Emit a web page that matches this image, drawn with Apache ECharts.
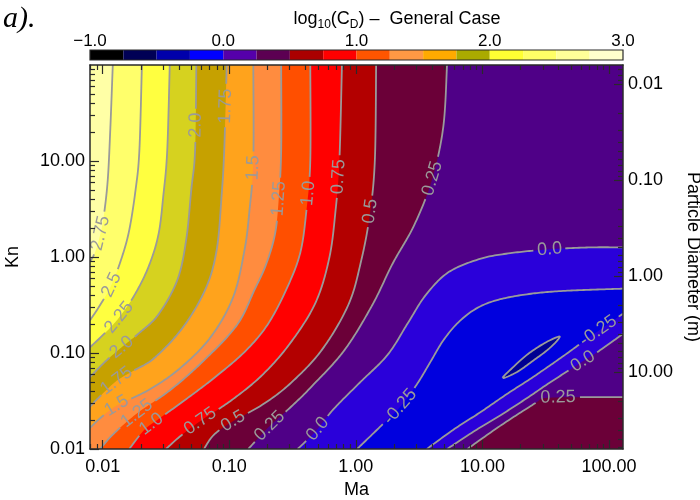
<!DOCTYPE html>
<html>
<head>
<meta charset="utf-8">
<script src="https://cdn.jsdelivr.net/npm/echarts@6/dist/echarts.min.js"></script>
<style>html,body{margin:0;padding:0;background:#fff}#main{width:700px;height:500px}</style>
</head>
<body>
<div id="main"></div>
<script>
// plot works in log10 space: x = log10(Ma), y = log10(Kn)
var maTicks = [0.01, 0.1, 1, 10, 100];
var maLabels = ['0.01', '0.10', '1.00', '10.00', '100.00'];
var knTicks = [0.01, 0.1, 1, 10];
var knLabels = ['0.01', '0.10', '1.00', '10.00'];
var diamTicks = [0.01, 0.1, 1, 10];
var diamLabels = ['0.01', '0.10', '1.00', '10.00'];
var diamOffset = -0.2; // log10(Kn * d)
var cbarTicks = [-1, 0, 1, 2, 3];
var cbarLabels = ['\u22121.0', '0.0', '1.0', '2.0', '3.0'];
var cbarColors = ['#000000', '#000055', '#0000aa', '#0000ff', '#5500aa', '#5c0052', '#aa0000', '#ff0000',
  '#ff5500', '#ff9944', '#ffaa00', '#aaaa00', '#ffff33', '#ffff66', '#ffff99', '#ffffcc'];

// fill colour of each band, by its lower level
var bandLevels = [-0.75, -0.5, -0.25, 0, 0.25, 0.5, 0.75, 1.0, 1.25, 1.5, 1.75, 2.0, 2.25, 2.5, 2.75];
var bandColors = ['#000092', '#0000de', '#2a00da', '#4f0087', '#6b0038', '#b30000', '#ff0000', '#ff4f00',
  '#ff8c3f', '#ffa31c', '#c6a100', '#d6d21f', '#ffff40', '#ffff6b', '#ffffa6'];

// contour lines, [log10 Ma, log10 Kn]
var c275 = [[-1.92,2.0],[-1.94,1.32],[-1.96,0.80],[-1.99,0.44],[-2.02,0.23],[-2.06,0.05],[-2.1,-0.05]];
var c250 = [[-1.69,2.0],[-1.71,1.11],[-1.74,0.70],[-1.79,0.28],[-1.85,-0.01],[-1.93,-0.29],[-2.02,-0.50],[-2.1,-0.66]];
var c225 = [[-1.47,2.0],[-1.49,1.11],[-1.52,0.65],[-1.56,0.23],[-1.64,-0.11],[-1.75,-0.40],[-1.87,-0.63],[-1.98,-0.79],[-2.1,-0.94]];
var c200 = [[-1.26,2.0],[-1.27,1.11],[-1.30,0.70],[-1.34,0.18],[-1.41,-0.24],[-1.56,-0.60],[-1.71,-0.79],[-1.85,-0.94],[-1.98,-1.09],[-2.1,-1.25]];
var c175 = [[-1.02,2.0],[-1.04,1.11],[-1.06,0.65],[-1.10,0.07],[-1.19,-0.34],[-1.37,-0.74],[-1.59,-1.05],[-1.75,-1.18],[-1.89,-1.29],[-2.02,-1.45],[-2.1,-1.56]];
var c150 = [[-0.81,2.0],[-0.81,1.01],[-0.84,0.49],[-0.88,0.07],[-0.97,-0.42],[-1.15,-0.84],[-1.39,-1.16],[-1.63,-1.38],[-1.89,-1.55],[-2.02,-1.68],[-2.1,-1.78]];
var c125 = [[-0.59,2.0],[-0.59,1.11],[-0.61,0.59],[-0.64,0.23],[-0.71,-0.08],[-0.80,-0.34],[-0.94,-0.71],[-1.21,-1.09],[-1.47,-1.39],[-1.73,-1.63],[-1.92,-1.85],[-2.02,-2.0]];
var c100 = [[-0.36,2.0],[-0.36,1.01],[-0.39,0.49],[-0.44,0.04],[-0.55,-0.34],[-0.70,-0.71],[-0.88,-0.99],[-1.12,-1.26],[-1.35,-1.49],[-1.55,-1.68],[-1.67,-1.80],[-1.79,-2.0]];
var c075 = [[-0.11,2.0],[-0.13,1.01],[-0.16,0.49],[-0.21,-0.01],[-0.32,-0.48],[-0.52,-0.90],[-0.74,-1.23],[-0.98,-1.49],[-1.23,-1.71],[-1.39,-1.87],[-1.50,-2.0]];
var c050 = [[0.16,2.0],[0.15,1.01],[0.11,0.44],[0.04,-0.05],[-0.06,-0.50],[-0.27,-0.97],[-0.52,-1.32],[-0.74,-1.54],[-0.97,-1.71],[-1.12,-1.85],[-1.20,-2.0]];
var c025 = [[0.72,2.0],[0.69,1.35],[0.60,0.80],[0.46,0.33],[0.29,-0.07],[0.13,-0.50],[-0.09,-0.97],[-0.35,-1.35],[-0.52,-1.57],[-0.68,-1.76],[-0.85,-2.0]];
var c000 = [[-0.46,-2.0],[-0.32,-1.82],[-0.18,-1.59],[0.03,-1.31],[0.25,-1.02],[0.41,-0.69],[0.55,-0.40],[0.73,-0.16],[0.98,-0.02],[1.22,0.04],[1.53,0.08],[1.85,0.10],[2.11,0.10]];
var cm025 = [[0.01,-2.0],[0.19,-1.77],[0.35,-1.56],[0.48,-1.33],[0.59,-1.09],[0.69,-0.87],[0.81,-0.68],[0.96,-0.53],[1.14,-0.44],[1.40,-0.38],[1.69,-0.35],[2.11,-0.33]];
var cm025r = [[0.56,-2.0],[0.78,-1.79],[0.98,-1.62],[1.19,-1.43],[1.40,-1.25],[1.63,-1.04],[1.85,-0.83],[2.11,-0.59]];
var c000r = [[0.72,-2.0],[0.94,-1.81],[1.14,-1.65],[1.34,-1.48],[1.53,-1.31],[1.73,-1.14],[1.93,-0.97],[2.11,-0.80]];
var c025r = [[0.88,-2.0],[1.15,-1.75],[1.42,-1.52],[1.49,-1.47],[1.77,-1.46],[2.11,-1.46]];
var cm050 = [[1.16,-1.26],[1.24,-1.15],[1.36,-1.01],[1.50,-0.89],[1.61,-0.83],[1.53,-0.95],[1.40,-1.08],[1.27,-1.20]];

// contour label spots [log10 Ma, log10 Kn, level]
var labelSpots = [
  [-2.02,0.25,2.75],[-1.93,-0.29,2.5],[-1.87,-0.63,2.25],[-1.85,-0.94,2.0],[-1.89,-1.29,1.75],[-1.89,-1.54,1.5],
  [-1.73,-1.63,1.25],[-1.61,-1.74,1.0],[-1.23,-1.70,0.75],[-0.97,-1.71,0.5],[-0.68,-1.76,0.25],[-0.31,-1.78,0.0],
  [0.35,-1.56,-0.25],[-1.27,1.38,2.0],[-1.04,1.58,1.75],[-0.82,0.93,1.5],[-0.62,0.61,1.25],[-0.40,0.67,1.0],
  [-0.15,0.83,0.75],[0.09,0.49,0.5],[0.56,0.83,0.25],[1.53,0.10,0.0],[1.90,-0.76,-0.25],[1.77,-1.04,0.0],[1.59,-1.46,0.25]
];

var X0 = -2.1, X1 = 2.11, Y0 = -2, Y1 = 2;
var FONT = '"Liberation Sans", Arial, Helvetica, sans-serif';
var LINE = '#9a9a9a';
var AX = '#2a2a2a';

// superlevel regions: the line plus the plot corners that close its high side
var contours = [
  {level: -0.25, pts: cm025, close: ['TR', 'TL', 'BL']},
  {level: -0.25, pts: cm025r, close: ['BR']},
  {level: 0, pts: c000, close: ['TR', 'TL', 'BL']},
  {level: 0, pts: c000r, close: ['BR']},
  {level: 0.25, pts: c025, close: ['BL', 'TL']},
  {level: 0.25, pts: c025r, close: ['BR']},
  {level: 0.5, pts: c050, close: ['BL', 'TL']},
  {level: 0.75, pts: c075, close: ['BL', 'TL']},
  {level: 1.0, pts: c100, close: ['BL', 'TL']},
  {level: 1.25, pts: c125, close: ['BL', 'TL']},
  {level: 1.5, pts: c150, close: ['TL']},
  {level: 1.75, pts: c175, close: ['TL']},
  {level: 2.0, pts: c200, close: ['TL']},
  {level: 2.25, pts: c225, close: ['TL']},
  {level: 2.5, pts: c250, close: ['TL']},
  {level: 2.75, pts: c275, close: ['TL']}
];

function bandColor(lv) {
  for (var i = 0; i < bandLevels.length; i++) if (Math.abs(bandLevels[i] - lv) < 1e-6) return bandColors[i];
  return '#000';
}
function fmtLevel(v) {
  var s = v.toFixed(2);
  if (s.charAt(s.length - 1) === '0') s = s.slice(0, -1);
  return s;
}
function lookup(ticks, labels, v, fn) {
  for (var i = 0; i < ticks.length; i++) if (Math.abs(fn(ticks[i]) - v) < 1e-6) return labels[i];
  return '';
}

// catmull-rom through the read points, in pixels
function spline(p, closed) {
  var n = p.length, out = [];
  var segs = closed ? n : n - 1;
  for (var i = 0; i < segs; i++) {
    var p0 = closed ? p[(i - 1 + n) % n] : p[Math.max(i - 1, 0)];
    var p1 = p[i], p2 = p[(i + 1) % n];
    var p3 = closed ? p[(i + 2) % n] : p[Math.min(i + 2, n - 1)];
    var steps = Math.max(2, Math.ceil(Math.hypot(p2[0] - p1[0], p2[1] - p1[1]) / 2));
    for (var k = (i === 0 ? 0 : 1); k <= steps; k++) {
      var t = k / steps, t2 = t * t, t3 = t2 * t;
      var q = [0, 1].map(function (j) {
        return 0.5 * (2 * p1[j] + (-p0[j] + p2[j]) * t + (2 * p0[j] - 5 * p1[j] + 4 * p2[j] - p3[j]) * t2 +
          (-p0[j] + 3 * p1[j] - 3 * p2[j] + p3[j]) * t3);
      });
      out.push(q);
    }
  }
  return out;
}

var measureCtx = document.createElement('canvas').getContext('2d');
measureCtx.font = '18px ' + FONT;

function renderField(params, api) {
  var P = function (d) { return api.coord(d); };
  var corner = {TL: [X0, Y1], TR: [X1, Y1], BL: [X0, Y0], BR: [X1, Y0]};
  var kids = [];
  kids.push({type: 'polygon', shape: {points: [corner.TL, corner.TR, corner.BR, corner.BL].map(P)},
    style: {fill: bandColor(-0.5)}});
  var island = spline(cm050.map(P), true);
  kids.push({type: 'polygon', shape: {points: island}, style: {fill: bandColor(-0.75)}});

  var curves = [];
  contours.forEach(function (c) {
    var pts = spline(c.pts.map(P), false);
    var ring = pts.concat(c.close.map(function (k) { return P(corner[k]); }));
    kids.push({type: 'polygon', shape: {points: ring}, style: {fill: bandColor(c.level)}});
    curves.push({level: c.level, pts: pts, holes: []});
  });
  curves.push({level: -0.5, pts: island, holes: []});

  var texts = [];
  labelSpots.forEach(function (s) {
    var p = P([s[0], s[1]]), best = null;
    curves.forEach(function (cv) {
      if (Math.abs(cv.level - s[2]) > 1e-6) return;
      cv.pts.forEach(function (q, i) {
        var d = Math.hypot(q[0] - p[0], q[1] - p[1]);
        if (!best || d < best.d) best = {d: d, cv: cv, i: i};
      });
    });
    if (!best) return;
    var pts = best.cv.pts, i = best.i;
    var a = pts[Math.max(i - 4, 0)], b = pts[Math.min(i + 4, pts.length - 1)];
    var ang = Math.atan2(-(b[1] - a[1]), b[0] - a[0]);
    if (ang > Math.PI / 2) ang -= Math.PI;
    if (ang <= -Math.PI / 2) ang += Math.PI;
    var txt = fmtLevel(s[2]);
    var w = measureCtx.measureText(txt).width;
    best.cv.holes.push({x: pts[i][0], y: pts[i][1], r: w / 2 + 3});
    texts.push({type: 'text', x: pts[i][0], y: pts[i][1], rotation: ang,
      style: {text: txt, fill: LINE, font: '18px ' + FONT, align: 'center', verticalAlign: 'middle'}});
  });

  curves.forEach(function (cv) {
    var cur = [];
    var flush = function () {
      if (cur.length > 1) kids.push({type: 'polyline', shape: {points: cur}, style: {stroke: LINE, lineWidth: 1.8, fill: null}});
      cur = [];
    };
    cv.pts.forEach(function (q) {
      var inHole = cv.holes.some(function (h) { return Math.hypot(q[0] - h.x, q[1] - h.y) < h.r; });
      if (inHole) flush(); else cur.push(q);
    });
    flush();
  });
  return {type: 'group', children: kids.concat(texts)};
}

function renderBar(params, api) {
  var kids = [];
  var step = (cbarTicks[cbarTicks.length - 1] - cbarTicks[0]) / cbarColors.length;
  cbarColors.forEach(function (c, i) {
    var a = api.coord([cbarTicks[0] + i * step, 1]), b = api.coord([cbarTicks[0] + (i + 1) * step, 0]);
    kids.push({type: 'rect', shape: {x: a[0], y: a[1], width: b[0] - a[0], height: b[1] - a[1]}, style: {fill: c}});
  });
  var a = api.coord([cbarTicks[0], 1]), b = api.coord([cbarTicks[cbarTicks.length - 1], 0]);
  kids.push({type: 'rect', shape: {x: a[0], y: a[1], width: b[0] - a[0], height: b[1] - a[1]},
    style: {fill: null, stroke: AX, lineWidth: 1.2}});
  return {type: 'group', children: kids};
}

function minors(lo, hi, fn) {
  var out = [];
  for (var k = -4; k <= 3; k++) for (var m = 2; m <= 9; m++) {
    var v = fn(k + Math.log10(m));
    if (v > lo && v < hi) out.push(v);
  }
  return out;
}
var log10 = function (t) { return Math.log10(t); };
var diamPos = function (d) { return diamOffset - Math.log10(d); };

var maMajor = maTicks.map(log10);
var knMajor = knTicks.map(log10);
var diamMajor = diamTicks.map(diamPos);
var maMinor = minors(X0, X1, function (v) { return v; });
var knMinor = minors(Y0, Y1, function (v) { return v; });
var diamMinor = minors(Y0, Y1, function (v) { return diamOffset - v; });

function axis(kind, pos, major, len, opts) {
  var a = {
    type: 'value', gridIndex: 0, position: pos, z: 10,
    min: kind === 'x' ? X0 : Y0, max: kind === 'x' ? X1 : Y1,
    splitLine: {show: false},
    axisLine: {show: !!opts.line, onZero: false, lineStyle: {color: AX, width: 1.5}},
    axisTick: {show: true, inside: true, length: len, customValues: major, lineStyle: {color: AX, width: 1.2}},
    axisLabel: {show: false}
  };
  if (opts.labels) {
    a.axisLabel = {show: true, customValues: major, formatter: opts.labels, color: '#000',
      fontSize: 18, fontFamily: FONT, margin: opts.margin};
  }
  if (opts.name) {
    a.name = opts.name; a.nameLocation = 'middle'; a.nameGap = opts.gap; a.nameRotate = opts.rot;
    a.nameTextStyle = {color: '#000', fontSize: 18, fontFamily: FONT};
  }
  return a;
}

var option = {
  animation: false,
  grid: [
    {left: 90, top: 65, width: 533, height: 384, outerBoundsMode: 'none', containLabel: false},
    {left: 90, top: 50, width: 533, height: 10, outerBoundsMode: 'none', containLabel: false}
  ],
  graphic: [
    {type: 'text', x: 3, y: 4, style: {text: 'a).', font: 'italic 30px "Liberation Serif", "Times New Roman", serif', fill: '#000'}},
    {type: 'text', x: 397, y: 19, style: {
      text: '{a|log}{s|10}{a|(C}{s|D}{a|) \u2013  General Case}', align: 'center', verticalAlign: 'middle',
      rich: {
        a: {fontSize: 18, fontFamily: FONT, fill: '#000', lineHeight: 24},
        s: {fontSize: 12, fontFamily: FONT, fill: '#000', lineHeight: 12, verticalAlign: 'bottom'}
      }}}
  ],
  xAxis: [
    axis('x', 'bottom', maMajor, 9, {line: true, margin: 9, name: 'Ma', gap: 30, rot: 0,
      labels: function (v) { return lookup(maTicks, maLabels, v, log10); }}),
    axis('x', 'bottom', maMinor, 5, {}),
    axis('x', 'top', maMajor, 9, {line: true}),
    axis('x', 'top', maMinor, 5, {}),
    {type: 'value', gridIndex: 1, position: 'top', min: -1, max: 3, interval: 1,
      splitLine: {show: false}, axisLine: {show: false}, axisTick: {show: false},
      axisLabel: {color: '#000', fontSize: 17, fontFamily: FONT, margin: 0,
        formatter: function (v) { return lookup(cbarTicks, cbarLabels, v, function (t) { return t; }); }}}
  ],
  yAxis: [
    axis('y', 'left', knMajor, 9, {line: true, margin: 5, name: 'Kn', gap: 68, rot: 90,
      labels: function (v) { return lookup(knTicks, knLabels, v, log10); }}),
    axis('y', 'left', knMinor, 5, {}),
    axis('y', 'right', diamMajor, 9, {line: true, margin: 5, name: 'Particle Diameter (m)', gap: 58, rot: -90,
      labels: function (v) { return lookup(diamTicks, diamLabels, v, diamPos); }}),
    axis('y', 'right', diamMinor, 5, {}),
    {type: 'value', gridIndex: 1, min: 0, max: 1, show: false}
  ],
  series: [
    {type: 'custom', coordinateSystem: 'cartesian2d', xAxisIndex: 0, yAxisIndex: 0, clip: true, silent: true,
      renderItem: renderField, data: [[0, 0]]},
    {type: 'custom', coordinateSystem: 'cartesian2d', xAxisIndex: 4, yAxisIndex: 4, silent: true,
      renderItem: renderBar, data: [[0, 0]]}
  ]
};

var chart = echarts.init(document.getElementById('main'));
chart.setOption(option);
</script>
</body>
</html>
